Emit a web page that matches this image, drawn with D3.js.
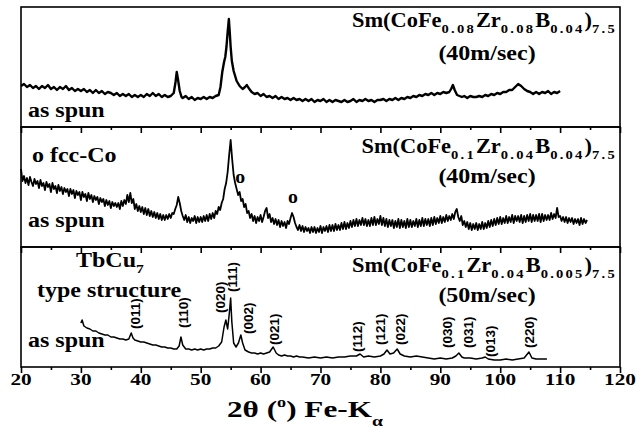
<!DOCTYPE html>
<html><head><meta charset="utf-8">
<script src="https://cdn.jsdelivr.net/npm/d3@7"></script>
<style>body{margin:0;background:#fff}svg{display:block}
.serif{font-family:"Liberation Serif","DejaVu Serif","Noto Serif","Times New Roman",Times,serif;font-weight:700}
.sans{font-family:"Liberation Sans",Arial,Helvetica,sans-serif;font-weight:700}
</style>
</head><body><svg id="c" width="637" height="431"></svg>
<script>
// ---------- data ----------
const majorTicks = [20,30,40,50,60,70,80,90,100,110,120];
const minorTicks = [25,35,45,55,65,75,85,95,105,115];
const xTitle = ["2θ (", "o", ") Fe-K", "α"];

const topTheta = [20,20.5,21,21.5,22,22.5,23,23.5,24,24.5,25,25.5,26,26.5,27,27.5,28,28.5,29,29.5,30,30.5,31,31.5,32,32.5,33,33.5,34,34.5,35,35.5,36,36.5,37,37.5,38,38.5,39,39.5,40,40.5,41,41.5,42,42.5,43,43.5,44,44.5,45,45.5,45.8,46,46.2,46.5,46.8,47,47.5,48,48.5,49,49.5,50,50.5,51,51.5,52,52.5,53,53.3,53.6,53.9,54.1,54.3,54.5,54.7,54.85,55,55.2,55.5,55.8,56,56.5,57,57.4,57.7,58,58.5,59,59.5,60,60.5,61,61.5,62,62.5,63,63.5,64,64.5,65,65.5,66,66.5,67,67.5,68,68.5,69,69.5,70,70.5,71,71.5,72,72.5,73,73.5,74,74.5,75,75.5,76,76.5,77,77.5,78,78.5,79,79.5,80,80.5,81,81.5,82,82.5,83,83.5,84,84.5,85,85.5,86,86.5,87,87.5,88,88.5,89,89.5,90,90.5,91,91.5,91.8,92.1,92.4,92.8,93.2,93.6,94,94.5,95,95.5,96,96.5,97,97.5,98,98.5,99,99.5,100,100.5,101,101.5,102,102.5,103,103.5,104,104.5,105,105.5,106,106.5,107,107.5,108,108.5,109,109.5,110];
const topIntensity = [41,43,40,42,39,41,38,41,39,42,38,40,37,40,38,41,37,39,36,38,36,38,35,37,34,37,34,36,33,35,34,32,34,31,33,31,33,30,32,30,32,30,33,31,34,31,33,30,32,30,31,34,45,55,48,36,30,29,31,28,30,27,29,28,30,28,30,29,31,32,40,55,65,70,80,95,108,95,80,66,56,50,46,41,38,40,42,39,35,33,34,31,33,30,31,29,31,28,30,28,29,27,29,27,28,26,28,26,28,25,27,26,28,25,27,25,27,26,25,27,25,26,28,25,27,26,28,26,27,25,27,27,28,26,28,27,29,27,29,28,30,29,31,30,32,31,33,32,34,32,34,33,35,34,35,38,42,37,32,31,30,31,29,31,30,30,31,30,32,31,33,32,34,33,35,35,37,37,40,43,41,38,36,35,33,35,33,35,34,36,33,35,34,36];

// middle pattern sampled every 0.25 deg from 20 to 114.5
const midStart = 20, midStep = 0.25;
const midIntensity = [
78,66,71,64, 69,62,70,65, 61,68,63,66, 59,67,61,64, 57,65,60,63, 55,64,58,61, 54,62,56,60, 53,59,55,58,
51,58,53,57, 49,56,52,55, 47,55,50,53, 46,54,48,52, 45,51,47,50, 43,49,45,48, 41,47,42,46, 39,45,41,44,
40,44,38,46, 41,47,43,52, 45,54,44,48, 38,43,36,41, 35,40,33,39, 32,38,31,36, 30,35,29,34, 28,33,27,32,
27,32,28,33, 29,34,33,38, 42,50,44,36, 31,27,32,25, 30,24,29,26, 31,24,30,25, 30,25,31,26, 32,26,33,28,
34,29,36,33, 40,37,44,48, 58,64,75,92, 107,88,72,64, 58,52,55,46, 48,40,43,34, 36,29,33,26, 31,24,30,26,
32,25,30,36, 39,29,33,25, 29,23,28,22, 27,20,26,21, 25,19,26,23, 29,34,30,24, 20,17,22,16, 21,15,20,16,
19,14,20,15, 20,14,19,15, 21,14,20,16, 21,15,22,16, 22,16,23,17, 22,17,24,18, 25,18,24,19, 26,20,27,21,
28,21,27,22, 29,22,28,21, 27,21,29,22, 30,22,28,23, 31,22,29,21, 28,20,27,21, 27,19,26,20, 28,19,27,20,
26,19,28,20, 27,20,26,21, 28,20,27,21, 29,21,28,22, 28,21,29,22, 30,23,29,24, 31,24,30,25, 32,26,31,27,
33,28,35,38, 30,26,31,22, 26,20,25,18, 24,17,23,18, 24,17,23,18, 25,18,24,19, 26,20,27,21, 28,22,29,23,
30,23,29,24, 31,24,30,25, 32,24,31,26, 31,25,32,24, 31,25,32,26, 33,25,32,26, 32,26,33,25, 33,26,32,27,
32,27,34,28, 33,29,39,30, 31,26,30,25, 30,24,29,25, 29,23,28,24, 28,22,29,23, 28,24,27];

const botTheta = [30,30.2,30.5,31,31.5,32,32.5,33,33.5,34,34.5,35,35.5,36,36.5,37,37.5,38,38.4,38.7,39,39.5,40,40.5,41,41.5,42,42.5,43,43.5,44,44.5,45,45.5,46,46.4,46.7,47,47.5,48,48.5,49,49.5,50,50.5,51,51.5,52,52.5,53,53.5,53.9,54.2,54.5,54.8,55,55.2,55.5,55.9,56.3,56.7,57,57.4,58,58.5,59,59.5,60,60.5,61,61.5,62.1,62.6,63,63.5,64,64.5,65,65.5,66,66.5,67,68,69,70,71,72,73,74,75,76,76.6,77.2,78,79,80,80.6,81.1,81.6,82.2,82.8,83.3,84,85,86,87,88,89,90,91,92,92.6,93.1,93.6,94,95,96,97,97.5,98,99,100,101,102,103,104,104.8,105.3,106,107,107.8];
const botIntensity = [44,47,41,39,38,36,36,34,33,32,32,30,30,29,28,28,27,28,34,29,27,26,25,25,24,23,22,22,21,20,20,19,19,18,18,21,30,22,18,18,17,18,17,18,17,18,18,19,19,21,25,40,47,38,55,69,45,24,20,24,32,24,17,15,14,14,13,14,13,14,15,20,14,12,11,12,11,11,10,11,10,10,9,10,9,10,9,10,10,11,11,13,10,11,10,11,13,17,13,14,18,13,11,10,11,10,9,8,9,8,9,11,14,10,9,9,8,9,10,8,7,7,8,7,8,9,15,9,8,8,8];

const peakLabels = ["(011)","(110)","(020)","(111)","(002)","(021)","(112)","(121)","(022)","(030)","(031)","(013)","(220)"];
const peakLabelTheta = [39.0,47.0,53.2,55.2,57.9,62.2,76.1,79.9,83.3,91.1,94.6,98.3,104.8];
const peakLabelLevel = [38,39,54,75,33,22,15,22,22,19,19,10,19];

const fccTheta = [56.6, 65.4];
const fccLevel = [64, 44];

const formulas = [
  [["Sm(CoFe",0],["0.08",1],["Zr",0],["0.08",1],["B",0],["0.04",1],[")",0],["7.5",1]],
  [["Sm(CoFe",0],["0.1",1],["Zr",0],["0.04",1],["B",0],["0.04",1],[")",0],["7.5",1]],
  [["Sm(CoFe",0],["0.1",1],["Zr",0],["0.04",1],["B",0],["0.005",1],[")",0],["7.5",1]]
];
const speeds = ["(40m/sec)","(40m/sec)","(50m/sec)"];
const stateLabel = "as spun";

// ---------- layout ----------
const svg = d3.select("#c");
const L = 21, R = 620, T = 7, PH = 120;
const x = d3.scaleLinear().domain([20,120]).range([L,R]);
const midTheta = midIntensity.map((d,k)=>midStart + k*midStep);
const panels = [
  {theta: topTheta, inten: topIntensity, sw: 2.4},
  {theta: midTheta, inten: midIntensity, sw: 1.8},
  {theta: botTheta, inten: botIntensity, sw: 1.5}
];

function stretchedText(g, px, py, sx, size, anchor, str){
  return g.append("g").attr("transform",`translate(${px},${py}) scale(${sx},1)`)
    .append("text").attr("class","serif").attr("text-anchor",anchor)
    .attr("font-size",size).attr("fill","#000").text(str);
}

panels.forEach((p,i)=>{
  const top = T + i*PH, bottom = top + PH;
  const y = d3.scaleLinear().domain([0,120]).range([bottom, top]);
  const g = svg.append("g");
  g.append("rect").attr("x",L).attr("y",top).attr("width",R-L).attr("height",PH)
    .attr("fill","none").attr("stroke","#000").attr("stroke-width",1.6);
  const ax = g.append("g").attr("transform",`translate(0,${bottom})`);
  ax.call(d3.axisBottom(x).tickValues(majorTicks).tickSize(6).tickFormat(""));
  ax.append("g").call(d3.axisBottom(x).tickValues(minorTicks).tickSize(3).tickFormat(""));
  ax.selectAll(".domain").remove();
  ax.selectAll("line").attr("stroke","#000").attr("stroke-width",1.6);
  const line = d3.line().x((d,k)=>x(p.theta[k])).y(d=>y(d));
  g.append("path").datum(p.inten).attr("d",line).attr("fill","none")
    .attr("stroke","#000").attr("stroke-width", p.sw).attr("stroke-linejoin","round");
  const ft = svg.append("g").attr("transform",`translate(617,${[27,153,272][i]}) scale(1.12,1)`)
    .append("text").attr("class","serif").attr("text-anchor","end")
    .attr("font-size",20).attr("fill","#000");
  let prevSub = 0;
  formulas[i].forEach(([s,sub])=>{
    const ts = ft.append("tspan").text(s);
    if(sub){ ts.attr("font-size",13).attr("letter-spacing",2).attr("dy", prevSub?0:6); }
    else { ts.attr("dy", prevSub?-6:0); }
    prevSub = sub;
  });
  stretchedText(svg, 487, [60,183,302][i], 1.2, 20, "middle", speeds[i]);
  stretchedText(svg, 28, [117,227,347][i], 1.2, 20, "start", stateLabel);
});

const yMid = d3.scaleLinear().domain([0,120]).range([T+2*PH, T+PH]);
stretchedText(svg, 32, 162, 1.2, 20, "start", "o fcc-Co");
fccTheta.forEach((t,k)=>{
  stretchedText(svg, x(t), yMid(fccLevel[k]), 1.1, 18, "middle", "o");
});

const yBot = d3.scaleLinear().domain([0,120]).range([T+3*PH, T+2*PH]);
const tb = svg.append("g").attr("transform","translate(76,267) scale(1.2,1)")
  .append("text").attr("class","serif").attr("font-size",20);
tb.append("tspan").text("TbCu");
tb.append("tspan").attr("font-size",13).attr("dy",6).text("7");
stretchedText(svg, 37, 297, 1.2, 20, "start", "type structure");

peakLabels.forEach((lab,k)=>{
  svg.append("text").attr("class","sans")
    .attr("transform",`translate(${x(peakLabelTheta[k])+4.8},${yBot(peakLabelLevel[k])}) rotate(-90)`)
    .attr("font-size",13.5).attr("fill","#000").text(lab);
});

majorTicks.forEach(v=>{
  stretchedText(svg, x(v), 385, 1.25, 17, "middle", String(v));
});

const at = svg.append("g").attr("transform","translate(227,417) scale(1.3,1)")
  .append("text").attr("class","serif").attr("font-size",24);
at.append("tspan").text(xTitle[0]);
at.append("tspan").attr("font-size",14).attr("dy",-10).text(xTitle[1]);
at.append("tspan").attr("dy",10).text(xTitle[2]);
at.append("tspan").attr("font-size",15).attr("dy",9).text(xTitle[3]);
</script></body></html>
